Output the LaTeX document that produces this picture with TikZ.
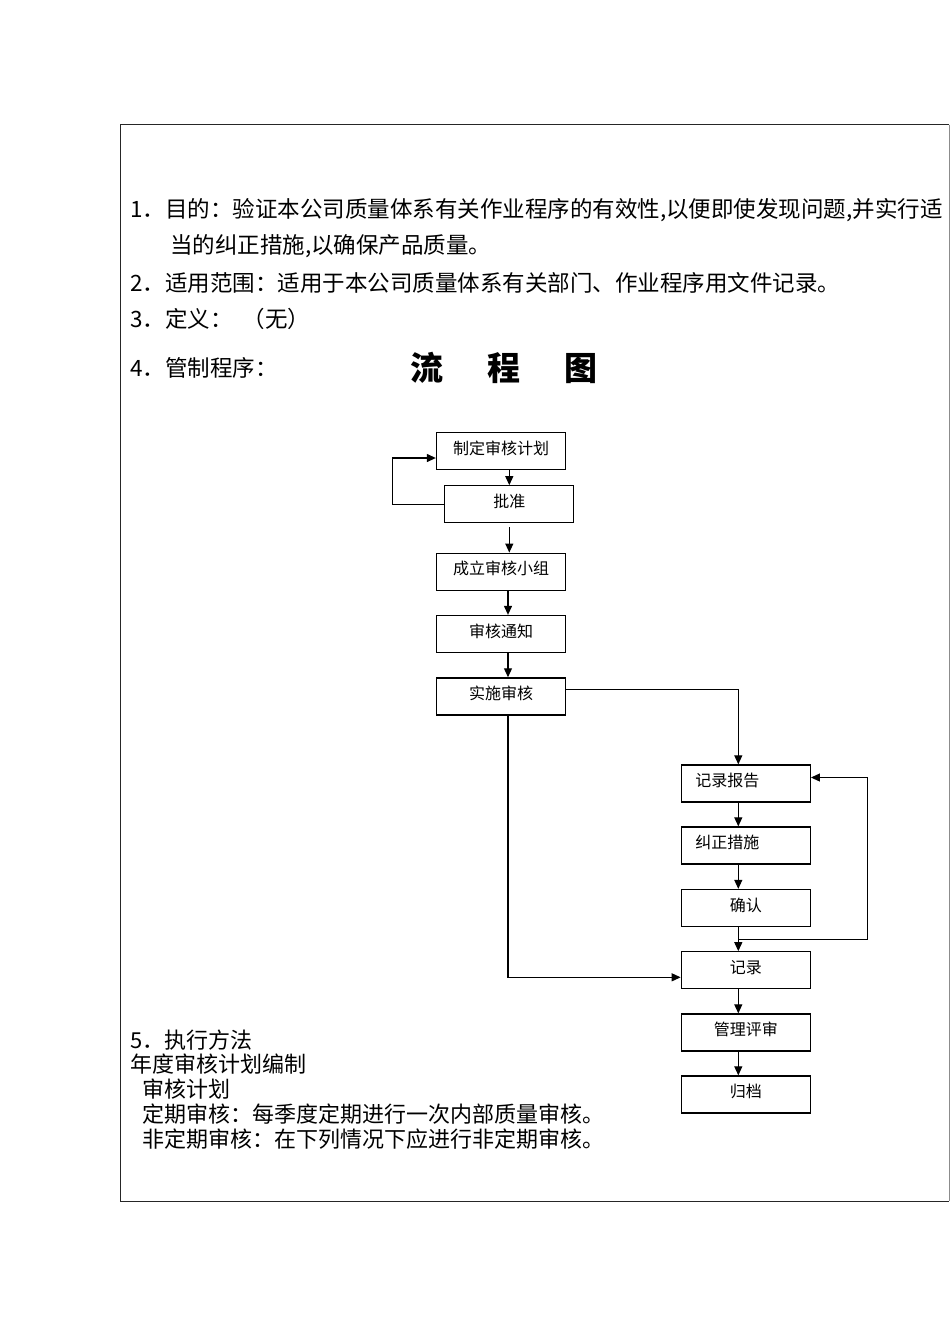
\documentclass[tikz,border=0pt]{standalone}
\usepackage{fontspec}
\setmainfont{Noto Sans CJK SC}
\usepackage{tikz}
\usetikzlibrary{arrows.meta,positioning,calc}

\begin{document}
\begin{tikzpicture}[
  x=1pt, y=-1pt,
  every node/.style={inner sep=0pt},
  bodytext/.style={anchor=west, font=\fontsize{22.5}{25}\selectfont},
  methodtext/.style={anchor=west, font=\fontsize{22}{25}\selectfont},
  flowbox/.style={rectangle, draw=black, line width=1.3pt, minimum width=129pt,
    minimum height=37pt, text height=14pt, text depth=8pt, font=\fontsize{16}{18}\selectfont},
  leftbox/.style={flowbox, text width=101pt, align=left},
  flowarrow/.style={-{Triangle[length=9pt,width=8pt]}, line width=1.2pt}
]
\useasboundingbox (0,0) rectangle (950,1344);
% frame
\draw[line width=1.3pt, black!85] (949,124.5) -- (120.5,124.5) -- (120.5,1201.3) -- (949,1201.3);
\draw[line width=1pt, black!45] (949,124.5) -- (949,1201.3);

\begin{scope}
\clip (120.5,124.5) rectangle (948.5,1201.3);
\node[bodytext] (aim) at (130,210) {1．目的：验证本公司质量体系有关作业程序的有效性,以便即使发现问题,并实行适};
\end{scope}
\node[bodytext] (aim2) at (170,246) {当的纠正措施,以确保产品质量。};
\node[bodytext] (scope) at (130,283) {2．适用范围：适用于本公司质量体系有关部门、作业程序用文件记录。};
\node[bodytext] (defn) at (130,319) {3．定义：\hspace{10pt}（无）};
\node[bodytext] (ctrl) at (130,368) {4．管制程序：};
\node[anchor=west, font=\fontsize{33}{36}\selectfont\bfseries] (title) at (410,368) {流\hspace{44pt}程\hspace{44pt}图};

% flow chart
\node[flowbox] (plan) at (501,451) {制定审核计划};
\node[flowbox] (approve) at (509.3,504.3) {批准};
\node[flowbox] (team) at (501,571.7) {成立审核小组};
\node[flowbox] (notice) at (501,634) {审核通知};
\node[flowbox] (audit) at (501,696.4) {实施审核};
\node[leftbox] (report) at (745.8,783.5) {记录报告};
\node[leftbox] (correct) at (745.8,845.5) {纠正措施};
\node[flowbox] (confirm) at (745.8,908) {确认};
\node[flowbox] (record) at (745.8,970.3) {记录};
\node[flowbox] (review) at (745.8,1032.5) {管理评审};
\node[flowbox] (archive) at (745.8,1094.5) {归档};

\draw[flowarrow] (plan.south -| approve.north) -- (approve.north);
\draw[flowarrow] (approve.west) -- ++(-52,0) |- ([yshift=-7pt]plan.west);
\draw[flowarrow] ([yshift=-4pt]approve.south) -- (approve.south |- team.north);
\draw[flowarrow] ([xshift=7pt]team.south) -- ([xshift=7pt]notice.north);
\draw[flowarrow] ([xshift=7pt]notice.south) -- ([xshift=7pt]audit.north);
\draw[flowarrow] ([yshift=7pt]audit.east) -| ([xshift=-7.5pt]report.north);
\draw[flowarrow] ([xshift=7pt]audit.south) |- ([yshift=-7pt]record.west);
\draw[flowarrow] ([xshift=-7.5pt]report.south) -- ([xshift=-7.5pt]correct.north);
\draw[flowarrow] ([xshift=-7.5pt]correct.south) -- ([xshift=-7.5pt]confirm.north);
\draw[flowarrow] ([xshift=-7.5pt]confirm.south) -- ([xshift=-7.5pt]record.north);
\coordinate (back) at ([xshift=-7.5pt,yshift=-12.5pt]confirm.south);
\draw[flowarrow] (back) -- ++(129,0) |- ([yshift=6pt]report.east);
\draw[flowarrow] ([xshift=-7.5pt]record.south) -- ([xshift=-7.5pt]review.north);
\draw[flowarrow] ([xshift=-7.5pt]review.south) -- ([xshift=-7.5pt]archive.north);

% method text
\node[methodtext] (method) at (130,1040) {5．执行方法};
\node[methodtext] (yearly) at (130,1064) {年度审核计划编制};
\node[methodtext] (auditplan) at (142,1089) {审核计划};
\node[methodtext] (regular) at (142,1114) {定期审核：每季度定期进行一次内部质量审核。};
\node[methodtext] (irregular) at (142,1139) {非定期审核：在下列情况下应进行非定期审核。};
\end{tikzpicture}
\end{document}
